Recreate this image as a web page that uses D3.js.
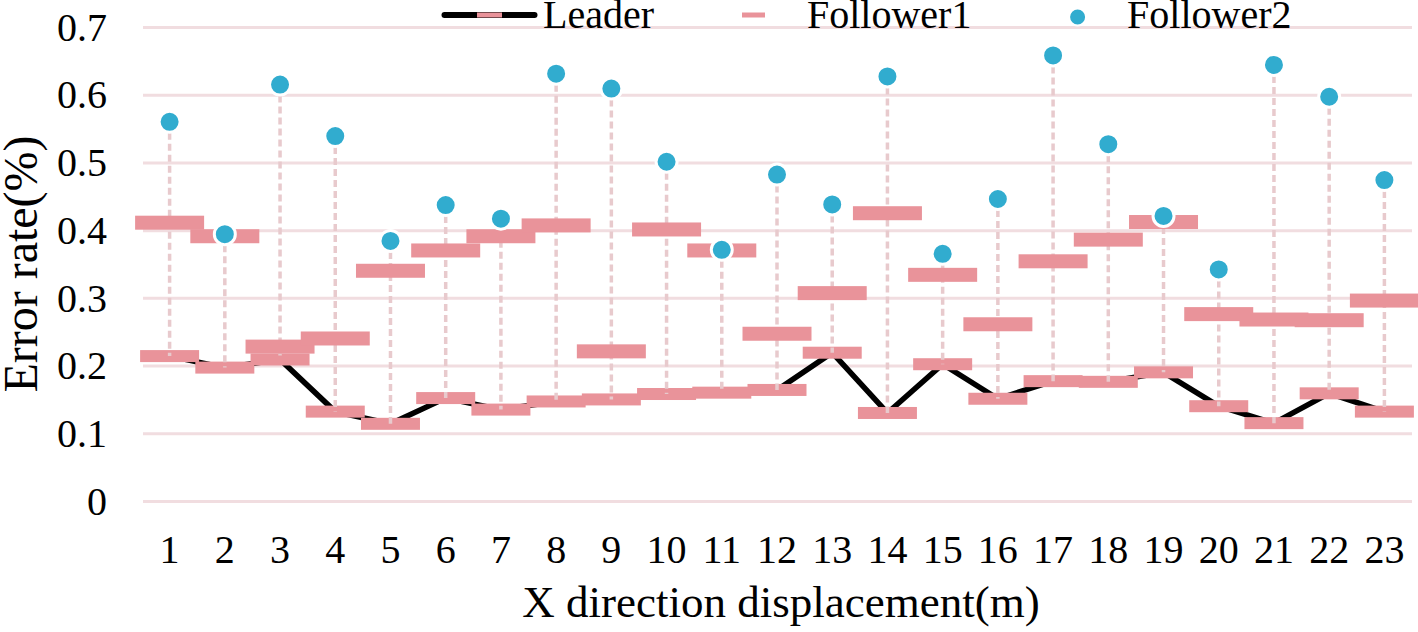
<!DOCTYPE html>
<html>
<head>
<meta charset="utf-8">
<script src="https://cdnjs.cloudflare.com/ajax/libs/d3/7.8.5/d3.min.js"></script>
<style>
  body { margin: 0; background: #fff; }
  svg { display: block; font-family: "Liberation Serif", "Times New Roman", serif; }
</style>
</head>
<body>
<div id="chart"></div>
<script>
var width = 1418, height = 632;

// x categories (displacement, m)
var categories = ["1","2","3","4","5","6","7","8","9","10","11","12","13","14","15","16","17","18","19","20","21","22","23"];

// error rate (%) per series
var leader = [0.214, 0.197, 0.209, 0.132, 0.114, 0.152, 0.135, 0.147, 0.150, 0.158, 0.160, 0.164,
              0.219, 0.130, 0.202, 0.151, 0.177, 0.176, 0.190, 0.140, 0.115, 0.159, 0.132];
var follower1 = [0.411, 0.391, 0.228, 0.240, 0.340, 0.370, 0.391, 0.407, 0.221, 0.401, 0.370, 0.247,
                 0.307, 0.425, 0.334, 0.261, 0.354, 0.386, 0.412, 0.276, 0.268, 0.267, 0.296];
var follower2 = [0.560, 0.394, 0.615, 0.539, 0.384, 0.437, 0.417, 0.631, 0.609, 0.501, 0.371, 0.482,
                 0.438, 0.627, 0.365, 0.446, 0.658, 0.527, 0.421, 0.342, 0.644, 0.597, 0.474];

var yTicks = [0, 0.1, 0.2, 0.3, 0.4, 0.5, 0.6, 0.7];
var seriesNames = ["Leader", "Follower1", "Follower2"];

var pink = "#e9939a", blue = "#31accf", grid = "#f1dde0", hilo = "#e8cacd";

var margin = {left: 142, right: 6, top: 27, bottom: 131};

var x = d3.scaleBand()
    .domain(categories)
    .range([margin.left, width - margin.right])
    .padding(0);

var y = d3.scaleLinear()
    .domain([0, 0.7])
    .range([height - margin.bottom, margin.top]);

var svg = d3.select("#chart").append("svg")
    .attr("width", width)
    .attr("height", height);

var cx = function(i) { return x(categories[i]) + x.bandwidth() / 2; };

// y axis + gridlines
var yAxis = svg.append("g")
    .attr("transform", "translate(" + (margin.left + 1) + ",0)")
    .call(d3.axisLeft(y)
        .tickValues(yTicks)
        .tickFormat(function(d) { return d === 0 ? "0" : d3.format(".1f")(d); })
        .tickSize(-(width - margin.right - margin.left - 1))
        .tickPadding(36));
yAxis.select(".domain").remove();
yAxis.selectAll("line")
    .attr("stroke", grid)
    .attr("stroke-width", 3);
yAxis.selectAll("text")
    .attr("fill", "#000")
    .attr("dy", "0.33em")
    .style("font-size", "40px")
    .style("font-family", "Liberation Serif");

// x axis labels
var xAxis = svg.append("g")
    .attr("transform", "translate(0," + y(0) + ")")
    .call(d3.axisBottom(x).tickSize(0).tickPadding(34));
xAxis.select(".domain").remove();
xAxis.selectAll("text")
    .attr("fill", "#000")
    .style("font-size", "40px")
    .style("font-family", "Liberation Serif");

// leader line
var line = d3.line()
    .x(function(d, i) { return cx(i); })
    .y(function(d) { return y(d); });

svg.append("path")
    .datum(leader)
    .attr("d", line)
    .attr("fill", "none")
    .attr("stroke", "#000")
    .attr("stroke-width", 5.5)
    .attr("stroke-linejoin", "miter");

// leader markers
svg.selectAll(".leader-mark")
    .data(leader)
  .enter().append("rect")
    .attr("class", "leader-mark")
    .attr("x", function(d, i) { return cx(i) - 29.5; })
    .attr("y", function(d) { return y(d) - 6; })
    .attr("width", 59)
    .attr("height", 12)
    .attr("fill", pink);

// high-low lines
svg.selectAll(".hilo")
    .data(categories)
  .enter().append("line")
    .attr("class", "hilo")
    .attr("x1", function(d, i) { return cx(i); })
    .attr("x2", function(d, i) { return cx(i); })
    .attr("y1", function(d, i) { return y(d3.max([leader[i], follower1[i], follower2[i]])); })
    .attr("y2", function(d, i) { return y(d3.min([leader[i], follower1[i], follower2[i]])); })
    .attr("stroke", hilo)
    .attr("stroke-width", 3.5)
    .attr("stroke-dasharray", "7,4");

// follower1 markers
svg.selectAll(".f1-mark")
    .data(follower1)
  .enter().append("rect")
    .attr("class", "f1-mark")
    .attr("x", function(d, i) { return cx(i) - 34.5; })
    .attr("y", function(d) { return y(d) - 7; })
    .attr("width", 69)
    .attr("height", 14)
    .attr("fill", pink);

// follower2 dots
svg.selectAll(".f2-dot")
    .data(follower2)
  .enter().append("circle")
    .attr("class", "f2-dot")
    .attr("cx", function(d, i) { return cx(i); })
    .attr("cy", function(d) { return y(d); })
    .attr("r", 10.5)
    .attr("fill", blue)
    .attr("stroke", "#fff")
    .attr("stroke-width", 3);

// axis titles
svg.append("text")
    .attr("x", (margin.left + width - margin.right) / 2 + 4)
    .attr("y", 617)
    .attr("text-anchor", "middle")
    .style("font-size", "45px")
    .text("X direction displacement(m)");

svg.append("text")
    .attr("transform", "translate(37," + 264 + ") rotate(-90)")
    .attr("text-anchor", "middle")
    .style("font-size", "48px")
    .text("Error rate(%)");

// legend
var legendX = [489.5, 753.5, 1077.6];
var legend = svg.selectAll(".legend")
    .data(seriesNames)
  .enter().append("g")
    .attr("class", "legend")
    .attr("transform", function(d, i) { return "translate(" + legendX[i] + ",15)"; });

legend.each(function(d, i) {
  var g = d3.select(this);
  if (i === 0) {
    g.append("line")
        .attr("x1", -45).attr("x2", 45)
        .attr("stroke", "#000").attr("stroke-width", 6)
        .attr("stroke-linecap", "round");
    g.append("rect")
        .attr("x", -12.5).attr("y", -2.5)
        .attr("width", 25).attr("height", 5)
        .attr("fill", pink);
  } else if (i === 1) {
    g.append("rect")
        .attr("x", -11.5).attr("y", -2.5)
        .attr("width", 23).attr("height", 5)
        .attr("fill", pink);
  } else {
    g.append("circle")
        .attr("cy", 2)
        .attr("r", 8.5)
        .attr("fill", blue)
        .attr("stroke", "#fff")
        .attr("stroke-width", 2);
  }
  g.append("text")
      .attr("x", i === 2 ? 49.5 : 53.5)
      .attr("y", 13)
      .style("font-size", "40px")
      .text(d);
});
</script>
</body>
</html>
